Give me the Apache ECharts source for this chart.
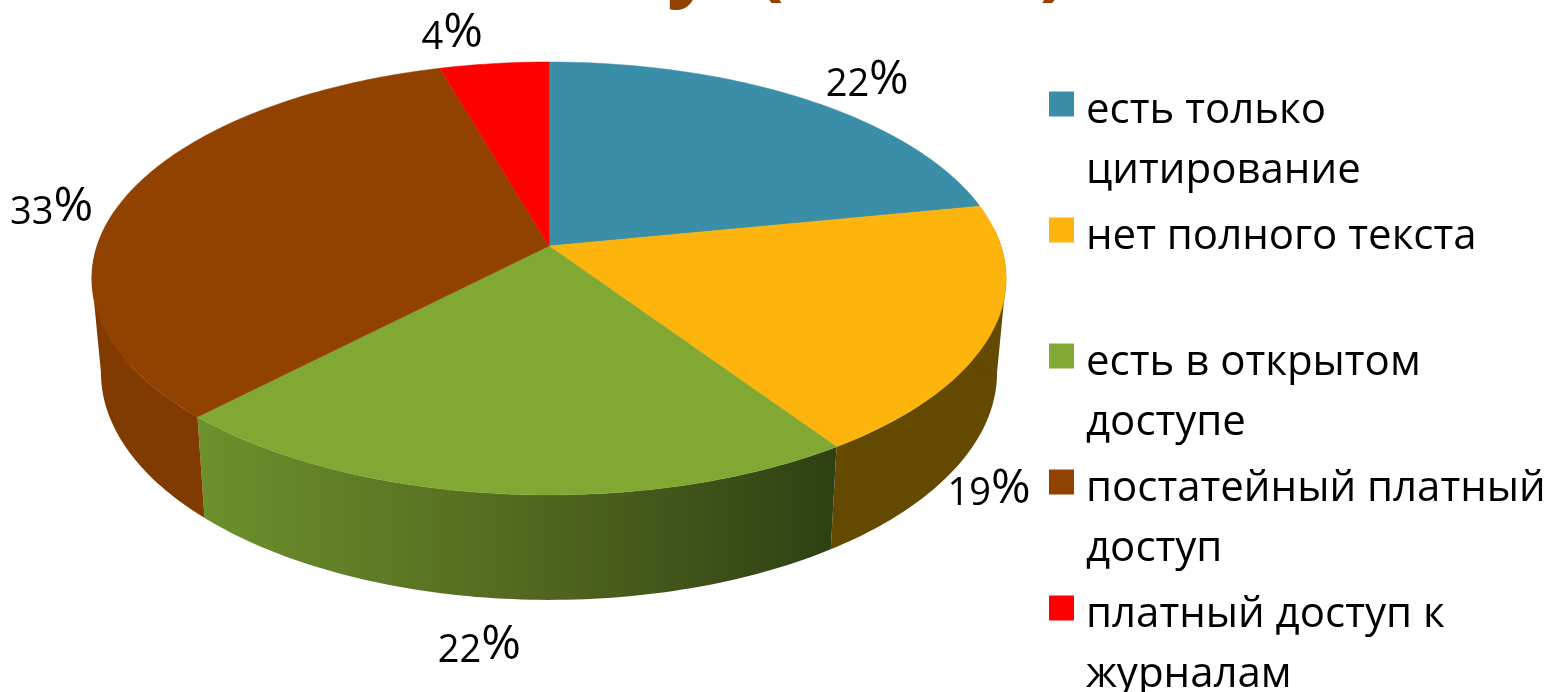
<!DOCTYPE html>
<html>
<head>
<meta charset="utf-8">
<style>html,body{margin:0;padding:0;background:#fff}#c{width:1551px;height:692px}</style>
<script src="https://cdn.jsdelivr.net/npm/echarts@6/dist/echarts.min.js"></script>
</head>
<body>
<div id="c"></div>
<script>
const categories = ['есть только\nцитирование', 'нет полного текста\n ', 'есть в открытом\nдоступе', 'постатейный платный\nдоступ', 'платный доступ к\nжурналам'];
const shares = [21.9, 18.7, 21.6, 33.35, 4.45];
const topColors = ['#3a8ea8', '#fdb40c', '#82a834', '#914200', '#ff0000'];
const wallColors = ['#2a6a7e', '#644900', null, '#813b00', '#a00000'];
const labelOffsets = [[61, -19], [-3, 157], [-23, 152], [-74, 11], [-42, -30]];

// projective view of a flat disc
const view = {cx: 549, cy: 246, rx: 452, ry: 211.6, k: 0.15, depth: 92.5, sx: 0.98, sy: 1.05, wallFrom: 85, wallTo: 280};
function topPoint(deg) {
  const t = deg * Math.PI / 180, u = Math.sin(t), v = Math.cos(t), w = 1 + view.k * v;
  return [view.cx + view.rx * u / w, view.cy - view.ry * v / w];
}
function basePoint(deg) {
  const p = topPoint(deg);
  return [view.cx + view.sx * (p[0] - view.cx), view.cy + view.depth + view.sy * (p[1] - view.cy)];
}
function arc(fn, a, b) {
  const pts = [], n = Math.max(2, Math.ceil(Math.abs(b - a)));
  for (let i = 0; i <= n; i++) pts.push(fn(a + (b - a) * i / n));
  return pts;
}
const greenWall = {type: 'linear', x: 0, y: 0, x2: 1, y2: 0, colorStops: [
  {offset: 0, color: '#6d912c'}, {offset: 0.6, color: '#4d611d'}, {offset: 1, color: '#2e4013'}]};
const widest = Math.acos(-view.k) * 180 / Math.PI;

function renderSlice(idx) {
  return function (params, api) {
    const a = api.value(0) * 3.6, b = api.value(1) * 3.6, children = [];
    const from = Math.max(a, view.wallFrom), to = Math.min(b, view.wallTo);
    if (to > from) {
      const fill = wallColors[idx] || greenWall;
      children.push({type: 'polygon', z2: 1, shape: {points: arc(topPoint, from, to).concat(arc(basePoint, to, from))},
        style: {fill: fill}});
      // outline from the top rim to the base rim at the widest points
      [widest, 360 - widest].forEach(function (s) {
        if (s > from && s < to) {
          children.push({type: 'polygon', z2: 1, shape: {points: [topPoint(s), basePoint(s), [view.cx, view.cy]]},
            style: {fill: fill}});
        }
      });
    }
    children.push({type: 'polygon', z2: 10, shape: {points: [[view.cx, view.cy]].concat(arc(topPoint, a, b))},
      style: {fill: topColors[idx], stroke: topColors[idx], lineWidth: 0.5}});
    const mid = topPoint((a + b) / 2), off = labelOffsets[idx];
    children.push({type: 'text', z2: 20, x: mid[0] + off[0], y: mid[1] + off[1], style: {
      text: '{d|' + Math.round(api.value(1) - api.value(0)) + '}{p|%}', align: 'center', verticalAlign: 'middle',
      rich: {d: {fontFamily: 'Open Sans', fontSize: 38, fill: '#000', verticalAlign: 'bottom'},
             p: {fontFamily: 'Open Sans', fontSize: 48, fill: '#000', verticalAlign: 'bottom'}}}});
    return {type: 'group', children: children};
  };
}

let running = 0;
const series = categories.map(function (name, i) {
  const start = running; running += shares[i];
  return {type: 'custom', name: name, coordinateSystem: 'none', silent: true,
    itemStyle: {color: topColors[i]}, renderItem: renderSlice(i), data: [[start, running]]};
});

const chart = echarts.init(document.getElementById('c'), null, {renderer: 'canvas'});
chart.setOption({
  backgroundColor: '#fff',
  animation: false,
  title: {text: 'у  (\u00a0\u00a0\u00a0\u00a0\u00a0\u00a0\u00a0\u00a0\u00a0\u00a0\u00a0\u00a0)', left: 662, top: -79,
    textStyle: {fontFamily: 'Open Sans', fontWeight: 'bold', fontSize: 82, color: '#914200'}},
  legend: {orient: 'vertical', left: 1049, top: 23, height: 800, padding: 0, icon: 'rect', itemWidth: 25, itemHeight: 25, itemGap: -43, selectedMode: false,
    formatter: function (name) {
      return '{b| }\n' + name.split('\n').map(function (l) { return '{t|\u2009' + l + '}'; }).join('\n');
    },
    textStyle: {fontFamily: 'Open Sans', fontSize: 42, color: '#000',
      rich: {b: {lineHeight: 74, fontSize: 42, fontFamily: 'Open Sans'}, t: {lineHeight: 60, fontSize: 42, fontFamily: 'Open Sans', color: '#000'}}}},
  series: series
});
</script>
</body>
</html>
